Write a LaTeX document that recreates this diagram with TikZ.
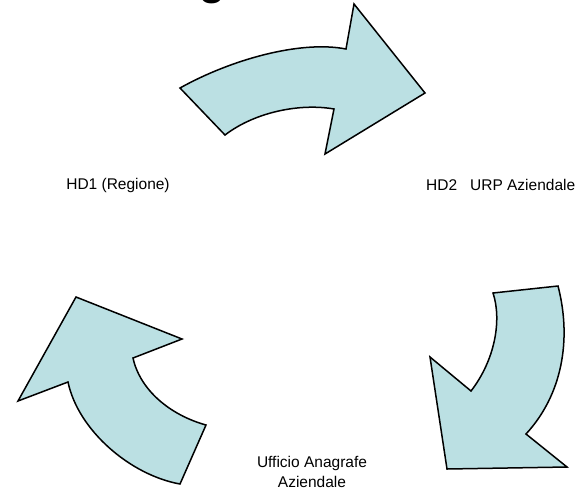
\documentclass[tikz,border=0pt]{standalone}
\usepackage{fontspec}
\setmainfont{Liberation Sans}
\definecolor{arrowfill}{HTML}{BBE0E3}
\tikzset{
  bigarrow/.style={draw=black, fill=arrowfill, line width=1.5pt, line join=miter},
  lbl/.style={font=\fontsize{15.5}{19.5}\selectfont, inner sep=0pt, align=center}
}
\begin{document}
\begin{tikzpicture}[x=1pt,y=-1pt]
\clip (0,0) rectangle (583,491);
\fill[white] (0,0) rectangle (583,491);
% partially visible title glyph
\node[anchor=base west, inner sep=0pt, font=\fontsize{50}{60}\selectfont] (title) at (198.5,-6.5) {g};
% top arrow
\path[bigarrow] (180,88) .. controls (230,60) and (300,40) .. (346,49)
  -- (354,4) -- (425,93) -- (325,154) -- (334,109)
  .. controls (300,103) and (255,112) .. (225,135) -- cycle;
% right arrow
\path[bigarrow] (493,293) -- (558,286)
  .. controls (572,340) and (562,395) .. (526,434)
  -- (567,467) -- (447,469) -- (430,357) -- (471,391)
  .. controls (495,360) and (502,320) .. (493,293) -- cycle;
% left arrow
\path[bigarrow] (180,484) -- (206,425)
  .. controls (170,415) and (140,390) .. (133,358)
  -- (182,339) -- (76,297) -- (18,401) -- (68,382)
  .. controls (78,430) and (130,475) .. (180,484) -- cycle;
% labels
\node[lbl] (hd1) at (118,185) {HD1 (Regione)};
\node[lbl, anchor=west] (hd2) at (426,185) {HD2\ \ \ URP Aziendale};
\node[lbl] (uff) at (312,472) {Ufficio Anagrafe\\Aziendale};
\end{tikzpicture}
\end{document}
